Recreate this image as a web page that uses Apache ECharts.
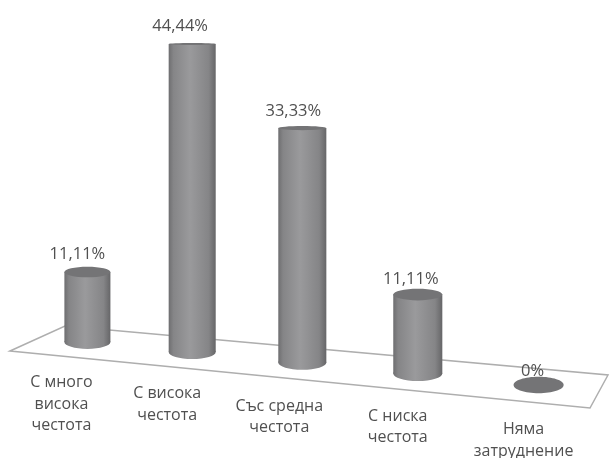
<!DOCTYPE html>
<html>
<head>
<meta charset="utf-8">
<style>
  html, body { margin: 0; padding: 0; background: #fff; }
  #chart { width: 610px; height: 458px; }
</style>
<script src="https://cdn.jsdelivr.net/npm/echarts@6/dist/echarts.min.js"></script>
</head>
<body>
<div id="chart"></div>
<script>
// данни
var categories = ['С много\nвисока\nчестота', 'С висока\nчестота', 'Със средна\nчестота', 'С ниска\nчестота', 'Няма\nзатруднение'];
var values = [11.11, 44.44, 33.33, 11.11, 0];

// перспектива на пода и цилиндрите
var floorSlope = 0.0953;
var depthScale = [0.9, 0.99, 1.005, 1.015, 1.02];
var valueLabelDx = [-10, -12, -9, -7, -6];
var valueLabelDy = [-18, -18, -17, -15, -14];
var catLabelDx = [-26, -25, -23, -20, -15];
var catLabelDy = [30, 31, 33, 32, 34];

var font = '"Open Sans", sans-serif';
var textColor = '#505050';

function sideGradient() {
  return new echarts.graphic.LinearGradient(0, 0, 1, 0, [
    { offset: 0, color: '#6e6e70' },
    { offset: 0.1, color: '#858587' },
    { offset: 0.45, color: '#9a9a9c' },
    { offset: 0.85, color: '#858587' },
    { offset: 1, color: '#666668' }
  ]);
}

// плоскост на елипсата според височината на окото
function rimHeight(y) {
  return Math.max(1, (y - 30) * 0.022);
}

function renderCylinder(params, api) {
  var i = api.value(0);
  var v = api.value(1);
  var base = api.coord([i, 0]);
  var top = api.coord([i, v]);
  var x = base[0] + 2.67 * i * (i - 4);
  var rx = api.size([1, 0])[0] * 0.204 * (1 + 0.022 * i);
  var baseY = base[1] + floorSlope * (x - 87);
  var topY = baseY - (base[1] - top[1]) * depthScale[i];
  var baseRy = rimHeight(baseY);
  var topRy = rimHeight(topY);
  var children = [];

  if (v > 0) {
    children.push({
      type: 'ellipse',
      shape: { cx: x, cy: baseY, rx: rx, ry: baseRy },
      style: { fill: sideGradient() }
    }, {
      type: 'rect',
      shape: { x: x - rx, y: topY, width: rx * 2, height: baseY - topY },
      style: { fill: sideGradient() }
    });
  }
  children.push({
    type: 'ellipse',
    shape: { cx: x, cy: topY, rx: rx, ry: v > 0 ? topRy : topRy * 1.05 },
    style: { fill: '#747476' }
  }, {
    type: 'text',
    style: {
      text: String(v).replace('.', ',') + '%',
      x: x + valueLabelDx[i],
      y: topY + valueLabelDy[i],
      align: 'center',
      verticalAlign: 'middle',
      font: '16.5px ' + font,
      fill: textColor
    }
  }, {
    type: 'text',
    style: {
      text: categories[i],
      x: x + catLabelDx[i],
      y: baseY + catLabelDy[i],
      align: 'center',
      verticalAlign: 'top',
      font: '16px ' + font,
      lineHeight: 21.5,
      fill: textColor
    }
  });
  return { type: 'group', children: children };
}

var chart = echarts.init(document.getElementById('chart'));
chart.setOption({
  animation: false,
  grid: { left: 31, top: 27, width: 564, height: 315 },
  xAxis: { type: 'category', data: categories, show: false },
  yAxis: { type: 'value', min: 0, max: 45, show: false },
  // подът
  graphic: [{
    type: 'polygon',
    z: 0,
    shape: { points: [[10, 351], [65, 326], [608, 375], [590, 408]] },
    style: { fill: '#fff', stroke: '#aeaeae', lineWidth: 1.5 }
  }],
  series: [{
    type: 'custom',
    z: 5,
    clip: false,
    renderItem: renderCylinder,
    encode: { x: 0, y: 1 },
    data: values.map(function (v, i) { return [i, v]; })
  }]
});
</script>
</body>
</html>
